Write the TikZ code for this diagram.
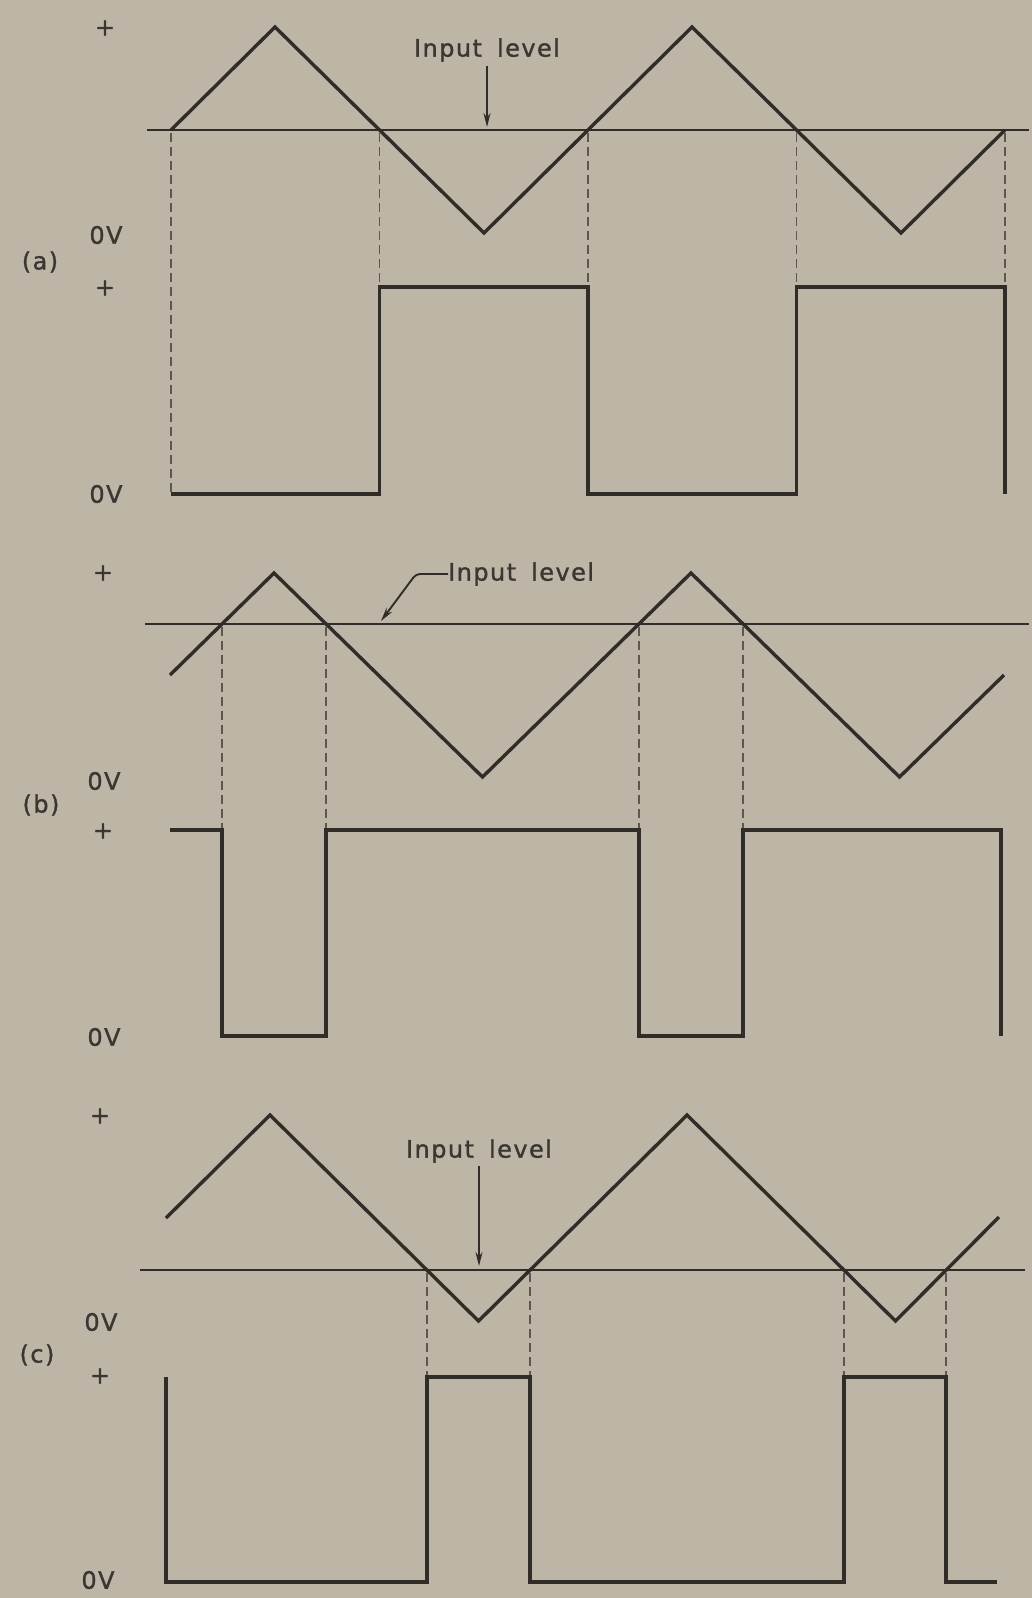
\documentclass[tikz,border=0pt]{standalone}
\usepackage{fontspec}
\usetikzlibrary{arrows.meta}
\newfontfamily\labfont[LetterSpace=6,FakeBold=1.2]{DejaVu Sans}
\definecolor{paper}{RGB}{189,182,167}
\definecolor{ink}{RGB}{48,44,40}
\definecolor{inktext}{RGB}{58,54,50}
\definecolor{dashink}{RGB}{92,87,80}
\begin{document}
\begin{tikzpicture}[x=1pt,y=-1pt,
  wave/.style={draw=ink,line width=3.4pt,line join=miter},
  levelline/.style={draw=ink,line width=2.6pt},
  guide/.style={draw=dashink,line width=1.6pt,dash pattern=on 9pt off 5pt},
  lbl/.style={text=inktext,font=\labfont\fontsize{24}{28}\selectfont,inner sep=0pt},
  pointer/.style={draw=ink,line width=1.9pt,-{Stealth[length=14pt,width=7pt]}}]
\fill[paper] (0,0) rectangle (1032,1598);
\useasboundingbox (0,0) rectangle (1032,1598);

% ---------- panel (a) ----------
\node[lbl] (pa1) at (105,28) {+};
\node[lbl] (za1) at (106,235) {0V};
\node[lbl] (la) at (40,262) {(a)};
\node[lbl] (pa2) at (105,288) {+};
\node[lbl] (za2) at (106,494) {0V};
\draw[levelline] (147,130) -- (1029,130);
\draw[wave] (171,130) -- (275,27) -- (484,233) -- (692,27) -- (901,233) -- (1005,130);
\foreach \x in {379.5,588,796.5,1005} \draw[guide] (\x,133) -- (\x,287);
\draw[guide] (171,133) -- (171,494);
\draw[wave] (171,494) -- (379.5,494) -- (379.5,287) -- (588,287) -- (588,494)
  -- (796.5,494) -- (796.5,287) -- (1005,287) -- (1005,494);
\node[lbl] (ta) at (487,50) {Input\hspace{6pt} level};
\coordinate (aa) at (487,127);
\draw[pointer] (487,66) -- (aa);

% ---------- panel (b) ----------
\node[lbl] (pb1) at (103,573) {+};
\node[lbl] (zb1) at (104,781) {0V};
\node[lbl] (lb) at (41,805) {(b)};
\node[lbl] (pb2) at (103,831) {+};
\node[lbl] (zb2) at (104,1037) {0V};
\draw[levelline] (145,624) -- (1029,624);
\draw[wave] (170,675) -- (274,573) -- (482.5,777) -- (691,573) -- (899.5,777) -- (1004,675);
\foreach \x in {222,326,639,743} \draw[guide] (\x,627) -- (\x,830);
\draw[wave] (170,830) -- (222,830) -- (222,1036) -- (326,1036) -- (326,830) -- (639,830)
  -- (639,1036) -- (743,1036) -- (743,830) -- (1001,830) -- (1001,1036);
\node[lbl,anchor=west] (tb) at (448,574) {Input\hspace{6pt} level};
\coordinate (ab) at (381,621);
\draw[pointer,rounded corners=4pt] (tb.west) -- (416,574) -- (ab);

% ---------- panel (c) ----------
\node[lbl] (pc1) at (100,1116) {+};
\node[lbl] (zc1) at (101,1322) {0V};
\node[lbl] (lc) at (37,1355) {(c)};
\node[lbl] (pc2) at (100,1376) {+};
\node[lbl] (zc2) at (98,1580) {0V};
\draw[levelline] (140,1270) -- (1025,1270);
\draw[wave] (166,1218) -- (270,1115) -- (478.5,1321) -- (687,1115) -- (895.5,1321) -- (999,1217);
\foreach \x in {427,530,844,946} \draw[guide] (\x,1273) -- (\x,1377);
\draw[wave] (166,1377) -- (166,1582) -- (427,1582) -- (427,1377) -- (530,1377) -- (530,1582)
  -- (844,1582) -- (844,1377) -- (946,1377) -- (946,1582) -- (997,1582);
\node[lbl] (tc) at (479,1151) {Input\hspace{6pt} level};
\coordinate (ac) at (479,1266);
\draw[pointer] (479,1166) -- (ac);
\end{tikzpicture}
\end{document}
